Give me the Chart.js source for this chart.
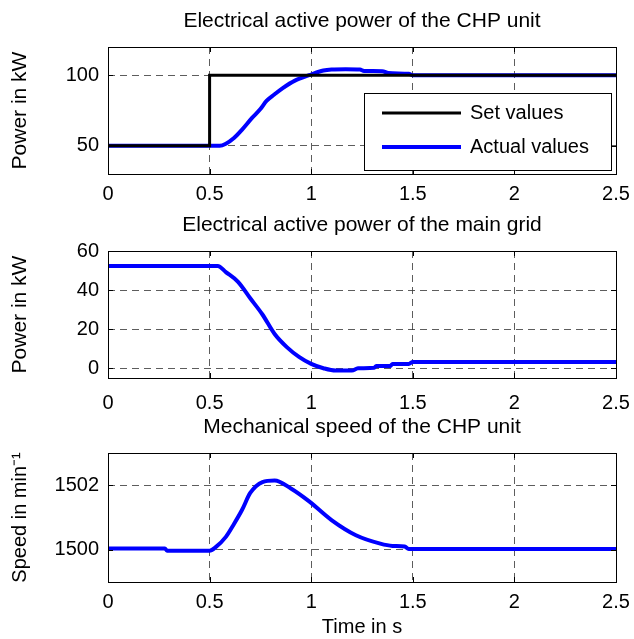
<!DOCTYPE html>
<html>
<head>
<meta charset="utf-8">
<script src="https://cdn.jsdelivr.net/npm/chart.js@4.4.1/dist/chart.umd.min.js"></script>
<style>
body{margin:0;background:#fff;}
#wrap{position:relative;width:634px;height:639px;}
#wrap div{position:absolute;left:0;width:634px;}
</style>
</head>
<body>
<div id="wrap">
  <div style="top:0;height:210px"><canvas id="c1"></canvas></div>
  <div style="top:210px;height:200px"><canvas id="c2"></canvas></div>
  <div style="top:410px;height:229px"><canvas id="c3"></canvas></div>
</div>
<script>
// valeurs
var tSet = [0, 0.5, 0.5, 2.5];
var pSet = [50, 50, 100, 100];

var tChp = [0, 0.55, 0.58, 0.62, 0.66, 0.71, 0.75, 0.78, 0.82, 0.86, 0.92, 0.99, 1.06, 1.10, 1.17, 1.24, 1.26, 1.35, 1.38, 1.48, 1.5, 2.5];
var pChp = [50, 50, 51.5, 55.5, 61.5, 69.9, 76, 81.8, 86.5, 90.9, 96.2, 100, 103.3, 104, 104.2, 104, 103, 102.9, 101.5, 101, 100, 100];

var tGrid = [0, 0.54, 0.58, 0.64, 0.70, 0.76, 0.82, 0.88, 0.94, 1.0, 1.06, 1.12, 1.2, 1.23, 1.31, 1.32, 1.39, 1.40, 1.48, 1.5, 2.5];
var pGrid = [52.3, 52.3, 49.2, 44.2, 35.8, 27.5, 17.5, 10.8, 5.8, 2.2, 0, -1.2, -1.2, 0, 0.2, 1.2, 1.2, 2.2, 2.2, 3.2, 3.2];

var tSpeed = [0, 0.28, 0.29, 0.5, 0.53, 0.58, 0.62, 0.66, 0.70, 0.76, 0.82, 0.90, 0.99, 1.10, 1.22, 1.34, 1.40, 1.46, 1.48, 2.5];
var nSpeed = [1500.04, 1500.04, 1499.97, 1499.97, 1500.08, 1500.4, 1500.8, 1501.24, 1501.76, 1502.1, 1502.15, 1501.9, 1501.5, 1500.92, 1500.45, 1500.19, 1500.12, 1500.1, 1500.02, 1500.02];

var xTicks = [0, 0.5, 1, 1.5, 2, 2.5];
var yTicksChp = [50, 100];
var yTicksGrid = [0, 20, 40, 60];
var yTicksSpeed = [1500, 1502];

var FONT = '"Liberation Sans", Arial, sans-serif';
Chart.defaults.font.family = FONT;
Chart.defaults.color = '#000';

function pts(t, v){
    return t.map(function(x, i){ return {x: x, y: v[i]}; });
}

// cadre + petits ticks interieurs (style matlab)
var frame = {
    id: 'frame',
    afterDatasetsDraw: function(chart){
        var a = chart.chartArea, ctx = chart.ctx;
        var sx = chart.scales.x, sy = chart.scales.y;
        ctx.save();
        ctx.strokeStyle = '#000';
        ctx.lineWidth = 1;
        ctx.beginPath();
        sx.ticks.forEach(function(t){
            var p = Math.round(sx.getPixelForValue(t.value)) + 0.5;
            ctx.moveTo(p, a.bottom); ctx.lineTo(p, a.bottom - 5);
            ctx.moveTo(p, a.top); ctx.lineTo(p, a.top + 5);
        });
        sy.ticks.forEach(function(t){
            var p = Math.round(sy.getPixelForValue(t.value)) + 0.5;
            ctx.moveTo(a.left, p); ctx.lineTo(a.left + 5, p);
            ctx.moveTo(a.right, p); ctx.lineTo(a.right - 5, p);
        });
        ctx.stroke();
        ctx.strokeRect(Math.round(a.left) + 0.5, Math.round(a.top) + 0.5, Math.round(a.right - a.left), Math.round(a.bottom - a.top));
        ctx.restore();
    }
};

// legende dans le graphe
var legendBox = {
    id: 'legendBox',
    afterDatasetsDraw: function(chart){
        var a = chart.chartArea, ctx = chart.ctx;
        var w = 247, h = 77;
        var x0 = Math.round(a.right - 5 - w), y0 = Math.round(a.bottom - 4 - h);
        ctx.save();
        ctx.fillStyle = '#fff';
        ctx.fillRect(x0, y0, w, h);
        ctx.strokeStyle = '#000';
        ctx.lineWidth = 1;
        ctx.strokeRect(x0 + 0.5, y0 + 0.5, w, h);
        chart.data.datasets.forEach(function(ds, i){
            var y = y0 + 20 + i * 34;
            ctx.strokeStyle = ds.borderColor;
            ctx.lineWidth = ds.borderWidth;
            ctx.beginPath();
            ctx.moveTo(x0 + 18, y); ctx.lineTo(x0 + 97, y);
            ctx.stroke();
            ctx.fillStyle = '#000';
            ctx.font = '20px ' + FONT;
            ctx.textBaseline = 'middle';
            ctx.fillText(ds.label, x0 + 106, y);
        });
        ctx.restore();
    }
};

function label(v){ return String(v); }

function makeChart(id, datasets, o){
    var plugins = [frame];
    if (o.legend) plugins.push(legendBox);
    return new Chart(document.getElementById(id), {
        type: 'line',
        data: {datasets: datasets},
        plugins: plugins,
        options: {
            responsive: true,
            maintainAspectRatio: false,
            animation: false,
            events: [],
            layout: {padding: {left: 0, right: 18, top: 0, bottom: 0}},
            elements: {point: {radius: 0}},
            plugins: {
                legend: {display: false},
                tooltip: {enabled: false},
                title: {
                    display: true,
                    fullSize: false,
                    text: o.title,
                    font: {size: 21, weight: 'normal', lineHeight: 1.2},
                    color: '#000',
                    padding: {top: o.titleY - 12.6, bottom: o.plotTop - o.titleY - 12.6}
                }
            },
            scales: {
                x: {
                    type: 'linear',
                    min: 0, max: 2.5,
                    afterBuildTicks: function(s){ s.ticks = xTicks.map(function(v){ return {value: v}; }); },
                    afterFit: function(s){
                        s.height = o.H - o.plotBottom;
                        s.paddingLeft = 0; s.paddingRight = 0;
                    },
                    grid: {color: '#333', lineWidth: 0.8, drawTicks: false},
                    border: {display: false, dash: [7, 5]},
                    ticks: {padding: o.xpad, font: {size: 20}, color: '#000', callback: label},
                    title: {display: !!o.xtitle, text: o.xtitle, font: {size: 20}, padding: {top: 0, bottom: 0}, color: '#000'}
                },
                y: {
                    min: o.ymin, max: o.ymax,
                    afterBuildTicks: function(s){ s.ticks = o.yticks.map(function(v){ return {value: v}; }); },
                    afterFit: function(s){
                        s.width = 108;
                        s.paddingTop = 0; s.paddingBottom = 0;
                    },
                    grid: {color: '#333', lineWidth: 0.8, drawTicks: false},
                    border: {display: false, dash: [7, 5]},
                    ticks: {padding: 9, font: {size: 20}, color: '#000', callback: label},
                    title: {display: true, text: o.ytitle, font: {size: o.ytsize}, padding: {top: 8, bottom: 0}, color: '#000'}
                }
            }
        }
    });
}

makeChart('c1', [
    {label: 'Set values', data: pts(tSet, pSet), borderColor: '#000000', borderWidth: 3, tension: 0},
    {label: 'Actual values', data: pts(tChp, pChp), borderColor: '#0000ff', borderWidth: 4, cubicInterpolationMode: 'monotone'}
], {title: 'Electrical active power of the CHP unit', ytitle: 'Power in kW', ytsize: 21, ymin: 30, ymax: 120, yticks: yTicksChp,
    H: 210, titleY: 21, plotTop: 47, plotBottom: 174, xpad: 8, legend: true});

makeChart('c2', [
    {label: 'Grid', data: pts(tGrid, pGrid), borderColor: '#0000ff', borderWidth: 4, cubicInterpolationMode: 'monotone'}
], {title: 'Electrical active power of the main grid', ytitle: 'Power in kW', ytsize: 21, ymin: -5, ymax: 60, yticks: yTicksGrid,
    H: 200, titleY: 15, plotTop: 41, plotBottom: 168, xpad: 13});

makeChart('c3', [
    {label: 'Speed', data: pts(tSpeed, nSpeed), borderColor: '#0000ff', borderWidth: 4, cubicInterpolationMode: 'monotone'}
], {title: 'Mechanical speed of the CHP unit', ytitle: 'Speed in min\u207B\u00B9', ytsize: 20, xtitle: 'Time in s', ymin: 1499, ymax: 1503, yticks: yTicksSpeed,
    H: 229, titleY: 17, plotTop: 43, plotBottom: 172, xpad: 8});
</script>
</body>
</html>
